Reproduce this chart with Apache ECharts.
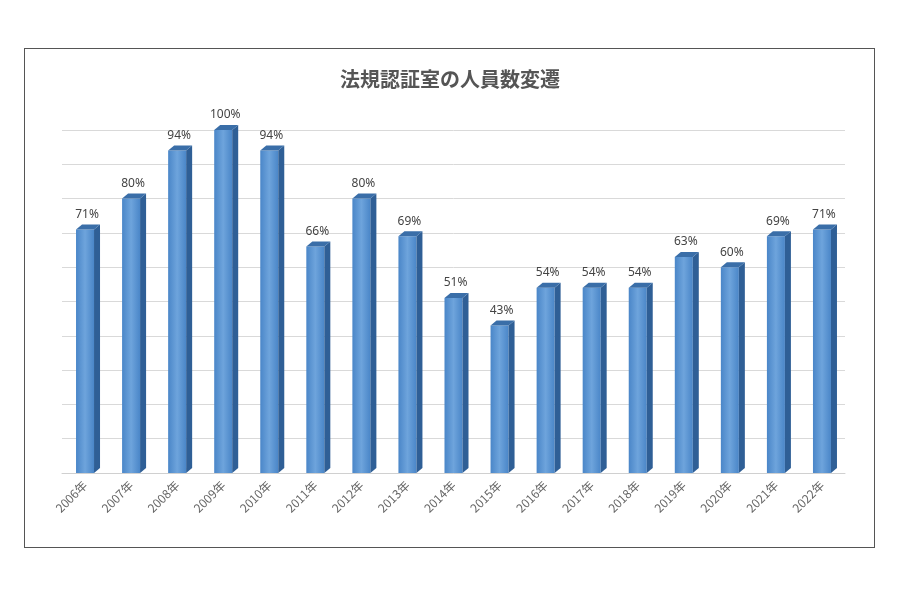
<!DOCTYPE html>
<html><head><meta charset="utf-8">
<script src="https://cdn.jsdelivr.net/npm/echarts@6/dist/echarts.min.js"></script>
<style>html,body{margin:0;background:#fff}#c{width:900px;height:600px}
#box{position:absolute;left:24px;top:48px;width:851px;height:500px;border:1px solid #555;box-sizing:border-box;pointer-events:none}</style>
</head><body><div id="c"></div><div id="box"></div>
<script>
const categories = ['2006年','2007年','2008年','2009年','2010年','2011年','2012年','2013年','2014年','2015年','2016年','2017年','2018年','2019年','2020年','2021年','2022年'];
const values = [71,80,94,100,94,66,80,69,51,43,54,54,54,63,60,69,71];
const chart = echarts.init(document.getElementById('c'));
chart.setOption({
  title:{text:'法規認証室の人員数変遷',left:'center',top:64,textStyle:{fontFamily:'Noto Sans CJK JP',fontSize:20,fontWeight:'bold',color:'#555'}},
  grid:{left:62,right:55,top:130,bottom:127},
  xAxis:{type:'category',data:categories,axisTick:{show:false},
    axisLine:{lineStyle:{color:'#d0d0d0'}},
    axisLabel:{rotate:45,color:'#666',fontSize:12,fontFamily:'Noto Sans CJK JP',margin:10}},
  yAxis:{type:'value',min:0,max:100,interval:10,axisLabel:{show:false},
    splitLine:{lineStyle:{color:'#d9d9d9'}}},
  series:[{type:'custom',data:values.map((v,i)=>[i,v]),
    renderItem(params,api){
      const p=api.coord([api.value(0),api.value(1)]);
      const b=api.coord([api.value(0),0]);
      const w=18,d=6,h=5,x=p[0]-w/2;
      return {type:'group',children:[
        {type:'rect',shape:{x:x,y:p[1],width:w,height:b[1]-p[1]},
         style:{fill:new echarts.graphic.LinearGradient(0,0,1,0,[{offset:0,color:'#4a86c8'},{offset:0.5,color:'#6ea4dc'},{offset:1,color:'#4a86c8'}])}},
        {type:'polygon',shape:{points:[[x+w,p[1]],[x+w+d,p[1]-h],[x+w+d,b[1]-h],[x+w,b[1]]]},style:{fill:'#2f5f96'}},
        {type:'polygon',shape:{points:[[x,p[1]],[x+d,p[1]-h],[x+w+d,p[1]-h],[x+w,p[1]]]},style:{fill:'#3a6ea8'}},
        {type:'text',x:p[0]+2,y:p[1]-9,style:{text:api.value(1)+'%',align:'center',verticalAlign:'bottom',fill:'#444',fontSize:12,fontFamily:'Noto Sans'}}
      ]};
    }}]
});
</script></body></html>
